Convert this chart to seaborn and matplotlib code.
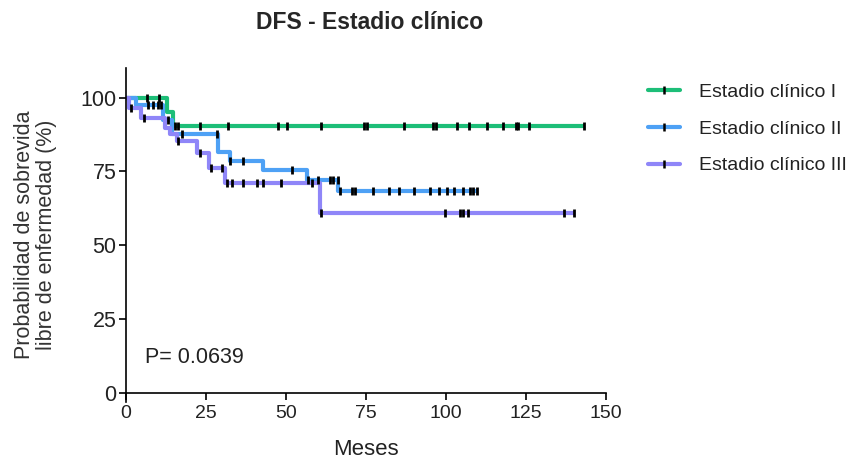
import numpy as np
import pandas as pd
import matplotlib
matplotlib.use("Agg")
import matplotlib.pyplot as plt
from matplotlib.lines import Line2D
import seaborn as sns

# ---------------- data ----------------
groups = ["Estadio clínico I", "Estadio clínico II", "Estadio clínico III"]
colors = ["#1DBE78", "#4EA1F5", "#8F86F8"]

# Kaplan-Meier step curves: times where the survival changes, and the new level
t_I = [0, 12.7, 14.6, 143.2]
s_I = [100, 95.2, 90.4, 90.4]
t_II = [0, 3.0, 11.7, 14.3, 28.8, 32.5, 42.9, 56.5, 66.4, 109.8]
s_II = [100, 97.5, 92.3, 87.8, 81.5, 78.6, 75.3, 72.2, 68.3, 68.3]
t_III = [0, 0.8, 4.6, 12.3, 13.8, 15.8, 22.3, 26.0, 31.0, 60.6, 140.3]
s_III = [100, 96.6, 93.1, 89.7, 87.5, 85.3, 81.2, 76.2, 71.0, 60.8, 60.8]

# censored observations (months)
c_I = [6.5, 10.3, 15.2, 16.3, 23.0, 32.0, 47.4, 50.2, 60.8, 74.4, 75.3, 86.9,
       95.8, 96.9, 103.3, 107.2, 112.7, 117.8, 121.8, 122.4, 125.9, 143.2]
c_II = [7.0, 8.5, 10.0, 11.0, 13.0, 17.6, 28.3, 32.5, 36.7, 52.0, 57.0, 60.1,
        63.8, 64.8, 66.3, 67.0, 70.5, 71.6, 77.3, 82.3, 85.2, 90.0, 95.0, 97.8,
        100.3, 102.5, 105.4, 107.5, 108.5, 109.6]
c_III = [1.5, 5.5, 16.3, 23.0, 26.5, 29.9, 31.5, 33.0, 36.6, 41.0, 42.7, 48.4,
         58.0, 60.8, 99.7, 104.4, 105.4, 107.0, 136.9, 140.1]

x_ticks = [0, 25, 50, 75, 100, 125, 150]
y_ticks = [0, 25, 50, 75, 100]
p_text = "P= 0.0639"

# ---------------- build tables ----------------
curves = pd.concat([
    pd.DataFrame({"Meses": t, "S": s, "grupo": g})
    for t, s, g in zip([t_I, t_II, t_III], [s_I, s_II, s_III], groups)
], ignore_index=True)


def level_at(times, levels, c):
    idx = np.searchsorted(np.asarray(times), np.asarray(c), side="right") - 1
    return np.asarray(levels)[idx]


cens = pd.concat([
    pd.DataFrame({"Meses": c, "S": level_at(t, s, c), "grupo": g})
    for t, s, c, g in zip([t_I, t_II, t_III], [s_I, s_II, s_III],
                          [c_I, c_II, c_III], groups)
], ignore_index=True)

# ---------------- plot ----------------
sns.set_theme(style="ticks")
plt.rcParams["font.family"] = ["Liberation Sans", "DejaVu Sans"]

fig = plt.figure(figsize=(8.59, 4.59), dpi=100)
ax = fig.add_axes([126 / 859, 1 - 401.5 / 459, 480 / 859, 333.5 / 459])

sns.lineplot(data=curves, x="Meses", y="S", hue="grupo", hue_order=groups,
             palette=colors, drawstyle="steps-post", estimator=None,
             sort=False, linewidth=3.0, legend=False, ax=ax)
for ln in ax.lines:
    ln.set_clip_on(False)
    ln.set_solid_capstyle("butt")

sns.scatterplot(data=cens, x="Meses", y="S", marker="|", color="black",
                s=38, linewidth=2.0, legend=False, ax=ax, zorder=5,
                clip_on=False)

ax.set_xlim(0, 150)
ax.set_ylim(-3, 110)
ax.spines["bottom"].set_position(("data", 0))
ax.spines["top"].set_visible(False)
ax.spines["right"].set_visible(False)
for sp in ("left", "bottom"):
    ax.spines[sp].set_linewidth(1.2)
    ax.spines[sp].set_color("black")
ax.set_xticks(x_ticks)
ax.set_yticks(y_ticks)
ax.tick_params(axis="both", direction="out", length=5, width=1.2,
               colors="black", labelcolor="#222222")
ax.tick_params(axis="x", labelsize=14, pad=4)
ax.tick_params(axis="y", labelsize=15.5, pad=2)

ax.set_xlabel("Meses", fontsize=16, color="#222222", labelpad=12)
ax.set_ylabel("Probabilidad de sobrevida\nlibre de enfermedad (%)",
              fontsize=15.5, color="#333333", labelpad=17, linespacing=1.05)
ax.text(6, 12, p_text, fontsize=15.5, va="center", color="#222222")

fig.suptitle("DFS - Estadio clínico", x=370 / 859, y=1 - 11 / 459,
             fontsize=16.5, fontweight="bold", va="top")

handles = [Line2D([], [], color=c, lw=3.0, marker="|", mec="black",
                  mew=1.8, ms=6) for c in colors]
fig.legend(handles, groups, loc="upper left",
           bbox_to_anchor=(630 / 859, 1 - 66 / 459), frameon=False,
           fontsize=14, handlelength=1.65, handletextpad=1.0,
           labelspacing=0.98, numpoints=1, labelcolor="#222222")

fig.savefig("out.png", dpi=100)
